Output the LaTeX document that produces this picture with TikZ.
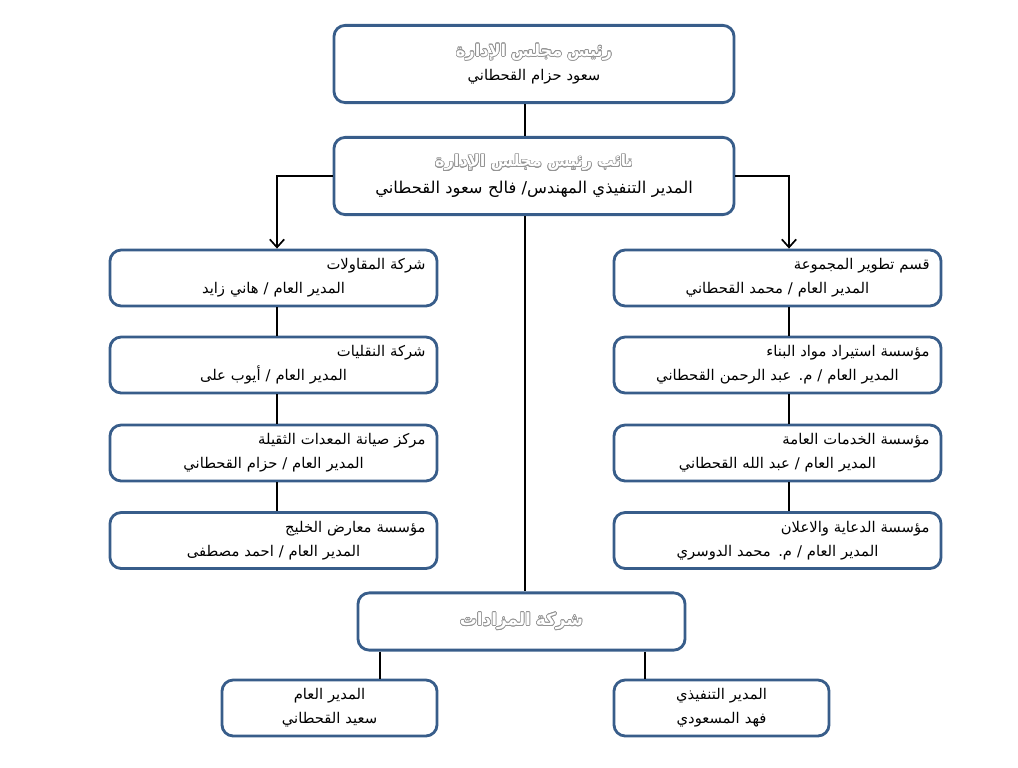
\documentclass[tikz,border=0pt]{standalone}
\usepackage{fontspec}
\usepackage{xcolor}
\usepackage{contour}
\usepackage{tikz}
\usetikzlibrary{arrows.meta,positioning,calc}
\TeXXeTstate=1
\newfontfamily\arabicfont[Script=Arabic]{DejaVu Sans}
\definecolor{boxblue}{HTML}{385D8A}
\contourlength{0.45pt}
\newcommand{\artxt}[1]{{\arabicfont\beginR #1\endR}}
\newcommand{\hollow}[1]{{\arabicfont\bfseries\textcolor{white}{\contour{gray!85}{\beginR #1\endR}}}}

\begin{document}
\begin{tikzpicture}[x=0.025cm,y=-0.025cm,>={Straight Barb[length=2mm,width=3.6mm]},
  font=\fontsize{10.5}{17}\selectfont,
  unit/.style={draw=boxblue,line width=2pt,rounded corners=8pt,fill=white,inner sep=0pt,
    minimum width=8.175cm,minimum height=1.4cm,text width=7.6cm,align=right},
  head/.style={unit,minimum width=10cm,minimum height=1.93cm,text width=9.5cm,align=center},
  leaf/.style={unit,minimum width=5.375cm,text width=5cm,align=center},
  link/.style={line width=1.2pt}]
\useasboundingbox (0,0) rectangle (1018,768);
% board
\node[head] (chair) at (534,64) {{\fontsize{11.5}{17}\selectfont\hollow{رئيس مجلس الإدارة}}\\ \artxt{سعود حزام القحطاني}};
\node[head,font=\fontsize{11.5}{19}\selectfont] (vice) at (534,176)
  {\hollow{نائب رئيس مجلس الإدارة}\\ {\fontsize{11.6}{19}\selectfont\artxt{المدير التنفيذي المهندس/ فالح سعود القحطاني}}};
\coordinate (trunk) at (525,0);
\coordinate (lcol) at (277,0);
\coordinate (rcol) at (789,0);
% two columns of companies
\foreach \i/\y/\firm/\boss in {1/278/{شركة المقاولات}/{هاني زايد},
    2/365/{شركة النقليات}/{أيوب على},
    3/453/{مركز صيانة المعدات الثقيلة}/{حزام القحطاني},
    4/540.5/{مؤسسة معارض الخليج}/{احمد مصطفى}}{
  \node[unit] (l\i) at (273.5,\y) {\artxt{\firm}\\ \makebox[7.6cm]{\artxt{المدير العام / \boss}}};
}
\foreach \i/\y/\firm/\boss in {1/278/{قسم تطوير المجموعة}/{محمد القحطاني},
    2/365/{مؤسسة استيراد مواد البناء}/{م. عبد الرحمن القحطاني},
    3/453/{مؤسسة الخدمات العامة}/{عبد الله القحطاني},
    4/540.5/{مؤسسة الدعاية والاعلان}/{م. محمد الدوسري}}{
  \node[unit] (r\i) at (777.5,\y) {\artxt{\firm}\\ \makebox[7.6cm]{\artxt{المدير العام / \boss}}};
}
\foreach \i/\j in {1/2,2/3,3/4}{
  \draw[link] (l\i.south -| lcol) -- (l\j.north -| lcol);
  \draw[link] (r\i.south -| rcol) -- (r\j.north -| rcol);
}
% auctions
\node[unit,minimum height=1.43cm,align=center] (auction) at (521.5,621.5) {\hollow{\fontsize{12}{17}\selectfont شركة المزادات}};
\node[leaf] (gm) at (329.5,708) {\artxt{المدير العام}\\ \artxt{سعيد القحطاني}};
\node[leaf] (ceo) at (721.5,708) {\artxt{المدير التنفيذي}\\ \artxt{فهد المسعودي}};
\coordinate (ltap) at (380,0);
\coordinate (rtap) at (645,0);
\draw[link] (chair.south -| trunk) -- (vice.north -| trunk);
\draw[link] (vice.south -| trunk) -- (auction.north -| trunk);
\draw[link,->] (vice.west) -| (l1.north -| lcol);
\draw[link,->] (vice.east) -| (r1.north -| rcol);
\draw[link] (auction.south -| ltap) -- (gm.north -| ltap);
\draw[link] (auction.south -| rtap) -- (ceo.north -| rtap);
\end{tikzpicture}
\end{document}
